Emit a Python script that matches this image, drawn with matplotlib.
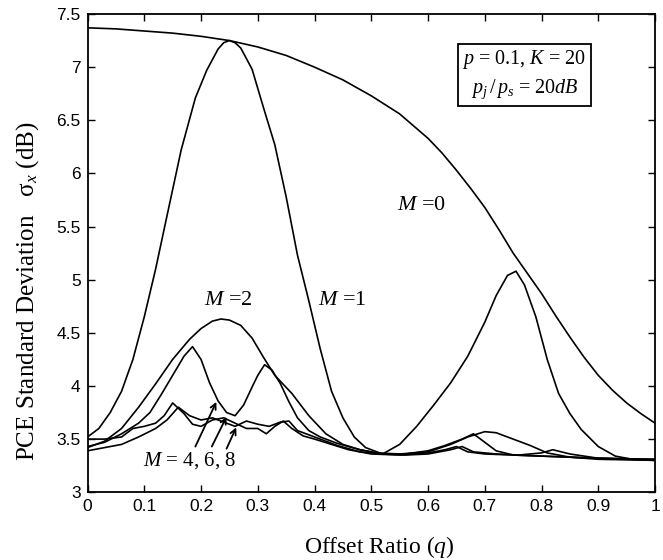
import numpy as np
import matplotlib
matplotlib.use('Agg')
import matplotlib.pyplot as plt

plt.rcParams['mathtext.fontset'] = 'custom'
plt.rcParams['mathtext.rm'] = 'Liberation Serif'
plt.rcParams['mathtext.it'] = 'Liberation Serif:italic'

# M = 0
q0 = [0, 0.05, 0.1, 0.15, 0.2, 0.25, 0.3, 0.35, 0.4, 0.45, 0.5, 0.55, 0.6, 0.625, 0.65, 0.675, 0.7,
      0.725, 0.75, 0.775, 0.8, 0.825, 0.85, 0.875, 0.9, 0.925, 0.95, 0.975, 1.0]
v0 = [7.37, 7.36, 7.34, 7.32, 7.29, 7.25, 7.19, 7.11, 7.00, 6.88, 6.73, 6.56, 6.33, 6.19, 6.03, 5.86, 5.68,
      5.47, 5.25, 5.06, 4.87, 4.66, 4.46, 4.27, 4.10, 3.96, 3.84, 3.74, 3.65]

# M = 1
q1 = [0, 0.02, 0.04, 0.06, 0.08, 0.1, 0.12, 0.14, 0.165, 0.19, 0.21, 0.23, 0.24, 0.25, 0.26, 0.27, 0.29, 0.31,
      0.33, 0.35, 0.37, 0.39, 0.41, 0.43, 0.45, 0.47, 0.49, 0.52, 0.55, 0.58, 0.61, 0.64, 0.67, 0.7,
      0.72, 0.74, 0.755, 0.77, 0.79, 0.81, 0.83, 0.85, 0.87, 0.9, 0.93, 0.96, 1.0]
v1 = [3.52, 3.6, 3.75, 3.95, 4.25, 4.65, 5.1, 5.6, 6.22, 6.71, 6.97, 7.17, 7.23, 7.25, 7.23, 7.18, 6.98, 6.62,
      6.27, 5.78, 5.23, 4.8, 4.35, 3.95, 3.7, 3.52, 3.42, 3.36, 3.45, 3.62, 3.82, 4.03, 4.28, 4.6,
      4.85, 5.04, 5.08, 4.95, 4.65, 4.25, 3.93, 3.74, 3.59, 3.43, 3.34, 3.31, 3.30]

# M = 2
q2 = [0, 0.03, 0.06, 0.09, 0.12, 0.15, 0.18, 0.2, 0.22, 0.235, 0.25, 0.27, 0.29, 0.31, 0.33, 0.36,
      0.39, 0.42, 0.45, 0.48, 0.51, 0.55, 0.6, 0.64, 0.67, 0.7, 0.72, 0.75, 0.78, 0.81, 0.85, 0.9, 1.0]
v2 = [3.42, 3.48, 3.6, 3.8, 4.02, 4.25, 4.44, 4.54, 4.61, 4.63, 4.62, 4.57, 4.45, 4.27, 4.1, 3.93,
      3.72, 3.55, 3.45, 3.4, 3.37, 3.36, 3.38, 3.45, 3.52, 3.57, 3.56, 3.5, 3.44, 3.37, 3.33, 3.31, 3.30]

# M = 4
q4 = [0, 0.03, 0.06, 0.09, 0.11, 0.13, 0.15, 0.17, 0.185, 0.2, 0.215, 0.23, 0.245, 0.26, 0.275, 0.29,
      0.3, 0.312, 0.325, 0.34, 0.355, 0.37, 0.39, 0.41, 0.44, 0.48, 0.52, 0.56, 0.6, 0.63, 0.66, 0.68,
      0.7, 0.72, 0.75, 0.8, 0.9, 1.0]
v4 = [3.43, 3.47, 3.55, 3.65, 3.75, 3.92, 4.1, 4.28, 4.37, 4.25, 4.03, 3.86, 3.75, 3.72, 3.82, 3.99,
      4.1, 4.2, 4.15, 4.02, 3.85, 3.7, 3.58, 3.52, 3.46, 3.4, 3.36, 3.36, 3.39, 3.44, 3.5, 3.55,
      3.47, 3.39, 3.35, 3.34, 3.32, 3.30]

# M = 6
q6 = [0, 0.03, 0.06, 0.08, 0.1, 0.12, 0.135, 0.15, 0.17, 0.185, 0.2, 0.22, 0.24, 0.26, 0.28, 0.3,
      0.315, 0.33, 0.345, 0.36, 0.38, 0.4, 0.43, 0.46, 0.5, 0.55, 0.6, 0.63, 0.65, 0.67, 0.7, 0.75,
      0.8, 0.85, 0.9, 1.0]
v6 = [3.5, 3.5, 3.52, 3.6, 3.62, 3.65, 3.72, 3.84, 3.74, 3.64, 3.62, 3.68, 3.7, 3.65, 3.6, 3.6,
      3.55, 3.62, 3.67, 3.6, 3.53, 3.5, 3.45, 3.4, 3.36, 3.35, 3.37, 3.4, 3.43, 3.38, 3.36, 3.35,
      3.34, 3.33, 3.32, 3.31]

# M = 8
q8 = [0, 0.03, 0.06, 0.09, 0.12, 0.14, 0.16, 0.18, 0.2, 0.22, 0.24, 0.26, 0.28, 0.3, 0.32, 0.34,
      0.355, 0.37, 0.4, 0.44, 0.48, 0.52, 0.56, 0.6, 0.64, 0.66, 0.68, 0.72, 0.76, 0.8, 0.82, 0.85,
      0.9, 1.0]
v8 = [3.39, 3.42, 3.45, 3.52, 3.6, 3.68, 3.8, 3.72, 3.68, 3.7, 3.66, 3.62, 3.67, 3.64, 3.62, 3.66,
      3.67, 3.58, 3.52, 3.44, 3.38, 3.36, 3.35, 3.36, 3.4, 3.43, 3.38, 3.36, 3.35, 3.37, 3.4, 3.36,
      3.32, 3.31]

xticks = [0, 0.1, 0.2, 0.3, 0.4, 0.5, 0.6, 0.7, 0.8, 0.9, 1]
xticklabels = ['0', '0.1', '0.2', '0.3', '0.4', '0.5', '0.6', '0.7', '0.8', '0.9', '1']
yticks = [3, 3.5, 4, 4.5, 5, 5.5, 6, 6.5, 7, 7.5]
yticklabels = ['3', '3.5', '4', '4.5', '5', '5.5', '6', '6.5', '7', '7.5']

fig = plt.figure(figsize=(6.63, 5.6), dpi=100)
ax = fig.add_axes([0.132, 0.121, 0.856, 0.854])

for qq, vv in [(q0, v0), (q1, v1), (q2, v2), (q4, v4), (q6, v6), (q8, v8)]:
    ax.plot(qq, vv, color='black', lw=1.2)

ax.set_xlim(0, 1)
ax.set_ylim(3, 7.5)
ax.set_xticks(xticks)
ax.set_xticklabels(xticklabels, family='Liberation Sans', fontsize=12.5)
ax.set_yticks(yticks)
ax.set_yticklabels(yticklabels, family='Liberation Sans', fontsize=12.5)
ax.tick_params(direction='in', length=5, width=1, top=True, right=True, pad=5)
for s in ax.spines.values():
    s.set_linewidth(1.3)

ax.set_xlabel('Offset Ratio ($q$)', family='Liberation Serif', fontsize=17)
ax.xaxis.set_label_coords(0.514, -0.114)
ax.xaxis.label.set_va('center')
ax.set_ylabel(r'PCE Standard Deviation   $\mathrm{\sigma}_x$ (dB)', family='Liberation Serif', fontsize=18)
ax.yaxis.set_label_coords(-0.105, 0.42)
ax.yaxis.label.set_va('center')

tfont = dict(family='Liberation Serif', fontsize=16)
ax.text(0.589, 5.70, '$M$ =0', ha='center', va='center', **tfont)
ax.text(0.249, 4.80, '$M$ =2', ha='center', va='center', **tfont)
ax.text(0.449, 4.80, '$M$ =1', ha='center', va='center', **tfont)
ax.text(0.18, 3.30, '$M$ = 4, 6, 8', ha='center', va='center', family='Liberation Serif', fontsize=15)

for tail, tip in [((0.19, 3.43), (0.227, 3.85)), ((0.219, 3.43), (0.245, 3.71)), ((0.245, 3.41), (0.262, 3.61))]:
    ax.annotate('', xy=tip, xytext=tail,
                arrowprops=dict(arrowstyle='->', color='black', lw=1.3, shrinkA=0, shrinkB=0))

ax.text(0.77, 6.93, '$p$ = 0.1, $K$ = 20\n$p_j\\,/\\,p_s$ = 20$dB$', ha='center', va='center',
        linespacing=1.45, family='Liberation Serif', fontsize=14.5,
        bbox=dict(boxstyle='square,pad=0.22', facecolor='white', edgecolor='black', lw=1.3))

fig.savefig('out.png', dpi=100)
